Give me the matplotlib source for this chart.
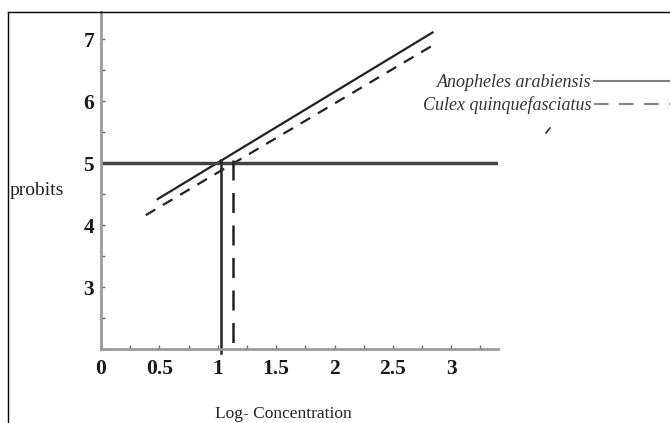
import matplotlib
matplotlib.use('Agg')
import matplotlib.pyplot as plt
from matplotlib.lines import Line2D
from matplotlib.ticker import MultipleLocator

# probit regression lines (log-concentration, probit)
log_conc_anopheles = [0.485, 2.84]
probit_anopheles = [4.42, 7.11]
log_conc_culex = [0.383, 2.885]
probit_culex = [4.16, 6.95]

# LC50 drop lines (probit 5)
lc50_probit = 5
lc50_anopheles = 1.03
lc50_culex = 1.13

x_ticks = [0, 0.5, 1, 1.5, 2, 2.5, 3]
x_tick_labels = ['0', '0.5', '1', '1.5', '2', '2.5', '3']
y_ticks = [3, 4, 5, 6, 7]
y_tick_labels = ['3', '4', '5', '6', '7']

series_names = ['Anopheles arabiensis', 'Culex quinquefasciatus']

plt.rcParams['font.family'] = ['Liberation Serif', 'DejaVu Serif']

W, H = 670, 423
fig = plt.figure(figsize=(W / 100, H / 100), dpi=100)

# axes placed in pixel terms
ax_l, ax_r, ax_b, ax_t = 101, 498, 349, 12
ax = fig.add_axes([ax_l / W, 1 - ax_b / H, (ax_r - ax_l) / W, (ax_b - ax_t) / H])
ax.set_xlim(0.026, 3.40)
ax.set_ylim(2.0, 7.44)

axis_grey = '#9a9a9a'
for s in ['top', 'right']:
    ax.spines[s].set_visible(False)
for s in ['left', 'bottom']:
    ax.spines[s].set_color(axis_grey)
    ax.spines[s].set_linewidth(2)

ax.set_xticks(x_ticks)
ax.set_xticklabels(x_tick_labels, fontsize=15.5, fontweight='bold')
ax.set_yticks(y_ticks)
ax.set_yticklabels(y_tick_labels, fontsize=15.5, fontweight='bold')
ax.xaxis.set_minor_locator(MultipleLocator(0.25))
ax.yaxis.set_minor_locator(MultipleLocator(0.5))
ax.tick_params(which='both', direction='in', length=3, width=1, color='#666666')
ax.tick_params(axis='x', pad=7)
ax.tick_params(axis='y', pad=5)
for lab in ax.get_xticklabels() + ax.get_yticklabels():
    lab.set_color('#1a1a1a')

# regression lines
l1, = ax.plot(log_conc_anopheles, probit_anopheles, color='#222222', lw=1.6,
              label=series_names[0])
l2, = ax.plot(log_conc_culex, probit_culex, color='#222222', lw=1.6,
              dashes=(5, 4), label=series_names[1])

# probit 5 line and LC50 drop lines
ax.axhline(lc50_probit, color='#444444', lw=2.5)
ax.plot([lc50_anopheles, lc50_anopheles], [lc50_probit + 0.05, 1.94],
        color='#222222', lw=1.8, clip_on=False)
ax.plot([lc50_culex, lc50_culex], [lc50_probit + 0.05, 2.0],
        color='#222222', lw=1.8, dashes=(8, 5))

# axis titles placed like the original
fig.text(10 / W, 1 - 190 / H, 'probits', fontsize=14, ha='left', va='center',
         color='#222222')
fig.text(283 / W, 1 - 414 / H, 'Log- Concentration', fontsize=12.5,
         ha='center', va='center', color='#222222')

# legend: text first, then line sample
leg = ax.legend(handles=[l1, l2], markerfirst=False, frameon=False,
                loc='upper right', bbox_to_anchor=(1.0, 1 - 74 / H),
                bbox_transform=fig.transFigure, borderpad=0, borderaxespad=0,
                handlelength=4.2, handletextpad=0.15, labelspacing=0.3,
                prop={'style': 'italic', 'size': 13})
for t in leg.get_texts():
    t.set_color('#333333')
for h in leg.get_lines():
    h.set_color('#808080')
    h.set_linewidth(1.5)
leg.get_lines()[1].set_dashes((7, 5))

# stray mark and figure frame
fig.add_artist(Line2D([546 / W, 550 / W], [1 - 133 / H, 1 - 128 / H],
                      color='#333333', lw=1.2))
fig.add_artist(Line2D([8 / W, 1], [1 - 12 / H, 1 - 12 / H], color='black', lw=1))
fig.add_artist(Line2D([8 / W, 8 / W], [0, 1 - 12 / H], color='black', lw=1))

fig.savefig('out.png', dpi=100)
